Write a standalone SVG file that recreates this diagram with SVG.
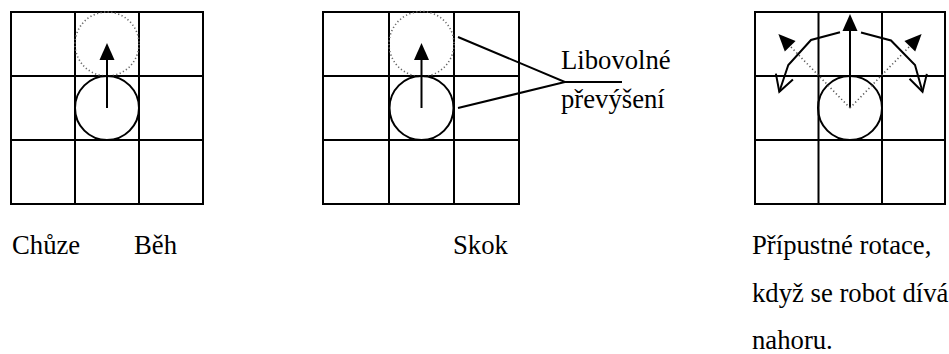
<svg xmlns="http://www.w3.org/2000/svg" width="949" height="354" viewBox="0 0 949 354">
<style>
.grid{fill:none;stroke:#000;stroke-width:2}
.robot{fill:none;stroke:#000;stroke-width:2}
.ghost{fill:none;stroke:#666;stroke-width:1.6;stroke-dasharray:1.2 2.4}
.mv{stroke:#000;stroke-width:2;fill:none}
.dot{stroke:#555;stroke-width:1.6;stroke-dasharray:1.2 2.6;fill:none}
.lead{stroke:#000;stroke-width:2;fill:none}
.t{font-family:'Liberation Serif','Times New Roman','DejaVu Serif',serif;font-size:26.7px;fill:#000}
</style>
<defs>
<marker id="tri" markerUnits="userSpaceOnUse" markerWidth="18" markerHeight="16" refX="0" refY="7.5" orient="auto" overflow="visible">
<path d="M0,0 L17,7.5 L0,15 Z" fill="#000"/>
</marker>
<marker id="open" markerUnits="userSpaceOnUse" markerWidth="20" markerHeight="20" refX="0" refY="0" orient="auto" overflow="visible">
<path d="M-16,-9 L0,0 L-16,9" fill="none" stroke="#000" stroke-width="2"/>
</marker>
</defs>

<g id="walk">
<path class="grid" d="M11,12 H203 V204 H11 Z M75,12 V204 M139,12 V204 M11,76 H203 M11,140 H203"/>
<circle class="ghost" cx="107" cy="44" r="32"/>
<circle class="robot" cx="107" cy="108" r="32"/>
</g>

<g id="jump">
<path class="grid" d="M323,12 H519 V204 H323 Z M389,12 V204 M454,12 V204 M323,76 H519 M323,140 H519"/>
<circle class="ghost" cx="421.5" cy="44" r="32.5"/>
<circle class="robot" cx="421.5" cy="108" r="32"/>
</g>

<g id="rotate">
<path class="grid" d="M755,12 H945 V204 H755 Z M818.5,12 V204 M882,12 V204 M755,76 H945 M755,140 H945"/>
<circle class="robot" cx="850" cy="108" r="32"/>
</g>

<g id="connectors">
<line class="mv" x1="107" y1="108" x2="107" y2="60" marker-end="url(#tri)"/>
<line class="mv" x1="421.5" y1="108" x2="421.5" y2="60" marker-end="url(#tri)"/>
<path class="lead" d="M458,37 L565,82 L458,108 M565,82 H622"/>
<line class="mv" x1="850" y1="108" x2="850" y2="31" marker-end="url(#tri)"/>
<line class="dot" x1="850" y1="108" x2="790.2" y2="46.2" marker-end="url(#tri)"/>
<line class="dot" x1="850" y1="108" x2="909.8" y2="46.2" marker-end="url(#tri)"/>
<polyline class="mv" points="840,32.3 811,40 788.3,65 779.3,91.7" marker-end="url(#open)"/>
<polyline class="mv" points="861,32.5 891,40.5 915,65 922.5,91.7" marker-end="url(#open)"/>
</g>

<g id="labels">
<text class="t" font-family="Liberation Serif, serif" x="561" y="69">Libovolné</text>
<text class="t" font-family="Liberation Serif, serif" x="561" y="108">převýšení</text>
<text class="t" font-family="Liberation Serif, serif" x="12" y="254">Chůze</text>
<text class="t" font-family="Liberation Serif, serif" x="134" y="254">Běh</text>
<text class="t" font-family="Liberation Serif, serif" x="453" y="254">Skok</text>
<text class="t" font-family="Liberation Serif, serif" x="752" y="254">Přípustné rotace,</text>
<text class="t" font-family="Liberation Serif, serif" x="752" y="302">když se robot dívá</text>
<text class="t" font-family="Liberation Serif, serif" x="752" y="349">nahoru.</text>
</g>
</svg>
